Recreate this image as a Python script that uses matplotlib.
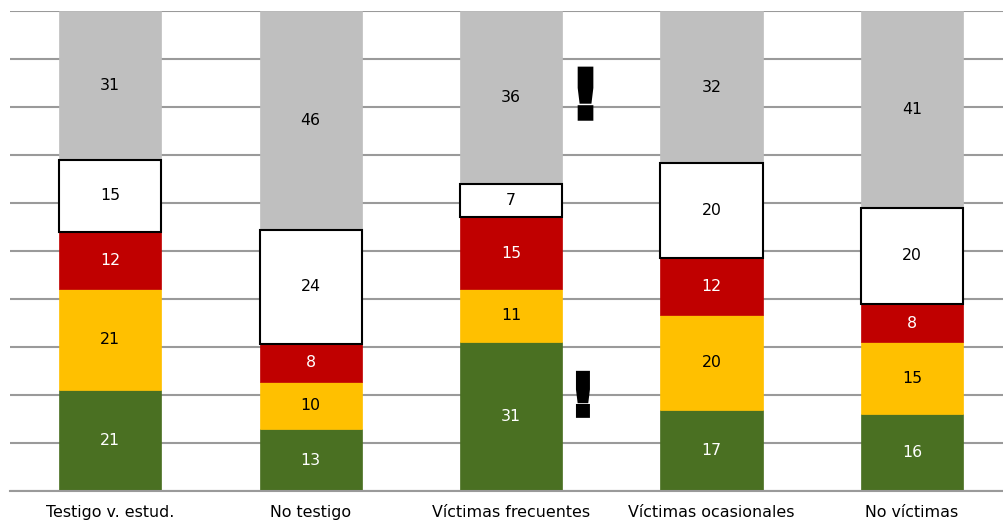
import matplotlib
matplotlib.use("Agg")
import matplotlib.pyplot as plt
import matplotlib.patheffects as pe
import numpy as np

categories = ["Testigo v. estud.", "No testigo", "Víctimas frecuentes",
              "Víctimas ocasionales", "No víctimas"]
green = [21, 13, 31, 17, 16]
yellow = [21, 10, 11, 20, 15]
red = [12, 8, 15, 12, 8]
white = [15, 24, 7, 20, 20]
gray = [31, 46, 36, 32, 41]

series = [green, yellow, red, white, gray]
colors = ["#4a7022", "#ffc000", "#c00000", "#ffffff", "#bfbfbf"]
text_colors = ["white", "black", "white", "black", "black"]

W, H = 1004, 520
fig = plt.figure(figsize=(W / 100, H / 100), dpi=100)
ax = fig.add_axes([10 / W, 29 / H, 1 - 10 / W, 480 / H])

data = np.array(series, dtype=float)
totals = data.sum(axis=0)
pct = data / totals * 100
x = np.arange(len(categories))
bottom = np.zeros(len(categories))
bw = 0.51
for i, (vals, c, tc) in enumerate(zip(pct, colors, text_colors)):
    if c == "#ffffff":
        ax.bar(x, vals, bw, bottom=bottom, color=c, edgecolor="black",
               linewidth=1.5, zorder=3)
    else:
        ax.bar(x, vals, bw, bottom=bottom, color=c, edgecolor=c,
               linewidth=0.5, zorder=2)
    for xi, v, b, lab in zip(x, vals, bottom, series[i]):
        ax.text(xi, b + v / 2, str(lab), ha="center", va="center",
                color=tc, fontsize=11.3, fontfamily="DejaVu Sans", zorder=4)
    bottom += vals

ax.set_ylim(0, 100)
ax.set_xlim(-0.5, 4.46)
ax.set_yticks(np.arange(0, 101, 10))
ax.yaxis.grid(True, color="#9a9a9a", linewidth=1.5, zorder=0)
ax.set_axisbelow(True)
ax.tick_params(axis="y", left=False, labelleft=False)
ax.tick_params(axis="x", length=0, pad=10, labelsize=11.4)
ax.set_xticks(x)
ax.set_xticklabels(categories)
for s in ["top", "right", "left"]:
    ax.spines[s].set_visible(False)
ax.spines["bottom"].set_color("#9a9a9a")
ax.spines["bottom"].set_linewidth(1.5)

stroke = [pe.withStroke(linewidth=2.5, foreground="black", joinstyle="miter")]
ax.text(2.372, 77.5, "!", ha="center", va="baseline", fontsize=50,
        fontweight="bold", color="black", path_effects=stroke, zorder=5)
ax.text(2.359, 15.6, "!", ha="center", va="baseline", fontsize=43,
        fontweight="bold", color="black", path_effects=stroke, zorder=5)

fig.savefig("out.png", dpi=100)
